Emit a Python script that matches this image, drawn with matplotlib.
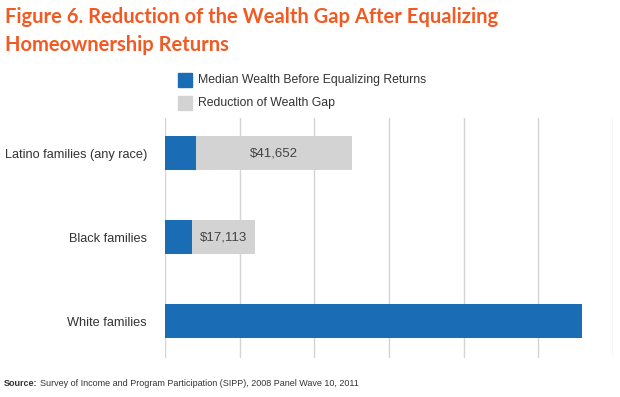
import matplotlib.pyplot as plt
import numpy as np

# data
groups = ['Latino families (any race)', 'Black families', 'White families']
median_wealth = [8348, 7113, 111740]
gap_reduction = [41652, 17113, 0]
gap_labels = ['$41,652', '$17,113', '']
xticks = [0, 20000, 40000, 60000, 80000, 100000, 120000]

blue = '#1a6db5'
grey = '#d3d3d3'
orange = '#f15a22'
txt = '#333333'

fig = plt.figure(figsize=(6.2, 3.97), dpi=100)
ax = fig.add_axes([165/620, 1 - 358/397, (613 - 165)/620, (358 - 118)/397])

y = np.arange(len(groups))
ax.barh(y, median_wealth, height=0.4, color=blue, zorder=3)
ax.barh(y, gap_reduction, left=median_wealth, height=0.4, color=grey, zorder=3)

for i in range(len(groups)):
    if gap_labels[i]:
        ax.text(median_wealth[i] + gap_reduction[i] / 2, y[i], gap_labels[i],
                ha='center', va='center', fontsize=9.5, color='#444444',
                family='Liberation Sans', zorder=4)

ax.set_xlim(0, 120000)
ax.set_ylim(2.44, -0.42)
ax.set_xticks(xticks)
ax.set_xticklabels([])
ax.grid(axis='x', color='#d4d4d4', lw=1, zorder=0)
ax.tick_params(length=0)
ax.set_yticks(y)
ax.set_yticklabels(groups, fontsize=9.2, color=txt, family='Liberation Sans')
ax.tick_params(axis='y', pad=13)
for s in ax.spines.values():
    s.set_visible(False)

# legend drawn by hand
fig.patches.append(plt.Rectangle((178/620, 1 - 87/397), 14/620, 14/397,
                                 transform=fig.transFigure, color=blue))
fig.patches.append(plt.Rectangle((178/620, 1 - 110/397), 14/620, 14/397,
                                 transform=fig.transFigure, color=grey))
fig.text(198/620, 1 - 80/397, 'Median Wealth Before Equalizing Returns',
         fontsize=8.8, color=txt, va='center', family='Liberation Sans')
fig.text(198/620, 1 - 103/397, 'Reduction of Wealth Gap',
         fontsize=8.8, color=txt, va='center', family='Liberation Sans')

# title
fig.text(5/620, 1 - 17/397, 'Figure 6. Reduction of the Wealth Gap After Equalizing',
         fontsize=14.5, fontweight='bold', color=orange, va='center', family='Lato')
fig.text(5/620, 1 - 45/397, 'Homeownership Returns',
         fontsize=14.5, fontweight='bold', color=orange, va='center', family='Lato')

# source
fig.text(4/620, 1 - 383/397, 'Source:', fontsize=6.5, color=txt, va='center',
         fontweight='bold', family='Liberation Sans')
fig.text(40/620, 1 - 383/397,
         'Survey of Income and Program Participation (SIPP), 2008 Panel Wave 10, 2011',
         fontsize=6.5, color=txt, va='center', family='Liberation Sans')

fig.savefig('out.png', dpi=100)
